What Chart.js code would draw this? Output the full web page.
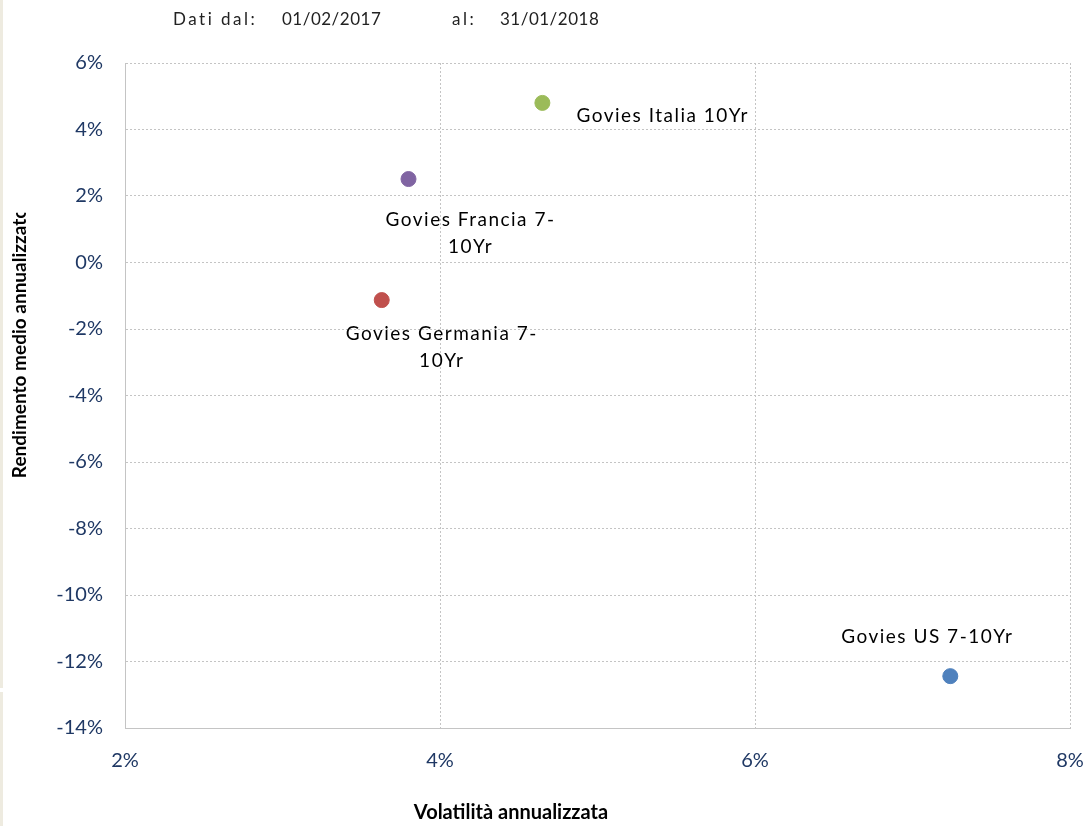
<!DOCTYPE html>
<html>
<head>
<meta charset="utf-8">
<script src="https://cdn.jsdelivr.net/npm/chart.js@4"></script>
<style>
  body { margin: 0; background: #fff; }
  #wrap { width: 1089px; height: 826px; }
</style>
</head>
<body>
<div id="wrap"><canvas id="rischioChart"></canvas></div>
<script>
// Dati (valori in %)
const nomi = ["Govies US 7-10Yr", "Govies Germania 7-10Yr", "Govies Francia 7-10Yr", "Govies Italia 10Yr"];
const etichette = [["Govies US 7-10Yr"], ["Govies Germania 7-", "10Yr"], ["Govies Francia 7-", "10Yr"], ["Govies Italia 10Yr"]];
const volatilita = [7.24, 3.63, 3.80, 4.65];
const rendimento = [-12.44, -1.13, 2.51, 4.80];
const colori = ["#4F81BD", "#C0504D", "#8064A2", "#9BBB59"];
const periodo = ["01/02/2017", "31/01/2018"];

// posizione delle etichette rispetto al punto (dx, dy, allineamento)
const posEtichette = [
  { dx: -23, dy: -39, align: 'center' },
  { dx: 60, dy: 34, align: 'center' },
  { dx: 62, dy: 41, align: 'center' },
  { dx: 34, dy: 13, align: 'left' }
];

const FONT = 'Lato, "Open Sans", sans-serif';
const griglia = { color: '#c4c4c4', lineWidth: 1, drawTicks: false };
const bordo = { color: '#c4c4c4', dash: [2, 2] };

const testiPlugin = {
  id: 'testi',
  beforeDraw(chart) {
    const ctx = chart.ctx;
    ctx.save();
    // striscia beige a sinistra
    ctx.fillStyle = '#eeebe0';
    ctx.fillRect(0, 0, 3, 688);
    ctx.fillRect(0, 692, 3, 134);
    ctx.restore();
  },
  afterDatasetsDraw(chart) {
    const ctx = chart.ctx;
    ctx.save();
    ctx.fillStyle = '#000';
    ctx.font = '19px ' + FONT;
    ctx.letterSpacing = '1.5px';
    ctx.textBaseline = 'middle';
    chart.data.datasets.forEach((ds, i) => {
      const pt = chart.getDatasetMeta(i).data[0];
      const p = posEtichette[i];
      ctx.textAlign = p.align;
      etichette[i].forEach((riga, k) => {
        ctx.fillText(riga, pt.x + p.dx, pt.y + p.dy + k * 27);
      });
    });
    ctx.restore();
  },
  afterDraw(chart) {
    const ctx = chart.ctx;
    ctx.save();
    // intestazione
    ctx.fillStyle = '#222';
    ctx.font = '17px ' + FONT;
    ctx.textBaseline = 'middle';
    ctx.textAlign = 'left';
    ctx.letterSpacing = '2.5px';
    ctx.fillText('Dati dal:', 173, 20);
    ctx.fillText('al:', 452, 20);
    ctx.letterSpacing = '0.5px';
    ctx.fillText(periodo[0], 282, 20);
    ctx.fillText(periodo[1], 500, 20);
    ctx.letterSpacing = '0px';

    // titolo asse x
    ctx.fillStyle = '#000';
    ctx.font = 'bold 20px ' + FONT;
    ctx.textAlign = 'center';
    ctx.fillText('Volatilità annualizzata', 511, 813);

    // titolo asse y (tagliato in alto come nell'originale)
    const titoloY = 'Rendimento medio annualizzato';
    ctx.font = 'bold 19px ' + FONT;
    const w = ctx.measureText(titoloY).width;
    const wo = ctx.measureText('o').width;
    const cy = 343;
    ctx.beginPath();
    ctx.rect(0, cy - w / 2 + wo * 0.45, 60, 500);
    ctx.clip();
    ctx.translate(20, cy);
    ctx.rotate(-Math.PI / 2);
    ctx.fillText(titoloY, 0, 0);
    ctx.restore();
  }
};

new Chart(document.getElementById('rischioChart'), {
  type: 'scatter',
  data: {
    datasets: nomi.map((n, i) => ({
      label: n,
      data: [{ x: volatilita[i], y: rendimento[i] }],
      backgroundColor: colori[i],
      borderColor: colori[i],
      pointRadius: 7.5,
      pointHoverRadius: 8
    }))
  },
  options: {
    responsive: true,
    maintainAspectRatio: false,
    animation: false,
    layout: { padding: { top: 63, right: 19, left: 0, bottom: 0 } },
    plugins: {
      legend: { display: false },
      tooltip: {
        callbacks: {
          label: ctx => `${ctx.dataset.label}: ${ctx.raw.x}% / ${ctx.raw.y}%`
        }
      }
    },
    scales: {
      x: {
        type: 'linear',
        min: 2, max: 8,
        grid: griglia,
        border: bordo,
        afterFit: s => { s.height = 98; s.paddingRight = 0; s.paddingLeft = 0; },
        ticks: {
          stepSize: 2,
          padding: 21,
          color: '#1f3864',
          font: { family: FONT, size: 20 },
          callback: v => v + '%'
        }
      },
      y: {
        min: -14, max: 6,
        grid: griglia,
        border: bordo,
        afterFit: s => { s.width = 125; },
        ticks: {
          stepSize: 2,
          padding: 22,
          color: '#1f3864',
          font: { family: FONT, size: 20 },
          callback: v => v + '%'
        }
      }
    }
  },
  plugins: [testiPlugin]
});
</script>
</body>
</html>
